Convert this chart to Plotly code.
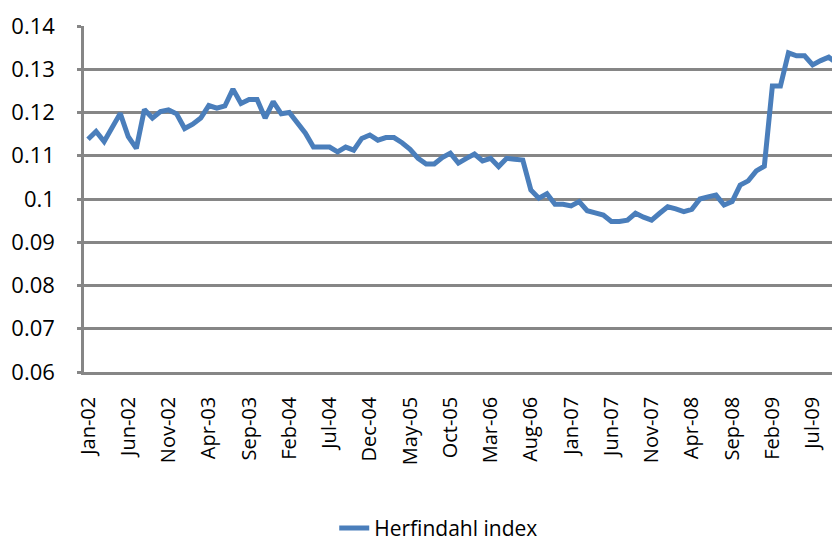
import pandas as pd
import plotly.graph_objects as go

# monthly labels Jan-02 onwards
months = list(pd.date_range('2002-01-01', periods=95, freq='MS').strftime('%b-%y'))

herfindahl = [
    0.1138, 0.1156, 0.1133, 0.1165, 0.1198, 0.1144, 0.1117, 0.1207, 0.1187, 0.1202,
    0.1206, 0.1197, 0.1163, 0.1173, 0.1187, 0.1216, 0.1210, 0.1215, 0.1254, 0.1221,
    0.1230, 0.1230, 0.1187, 0.1225, 0.1197, 0.1200, 0.1175, 0.1152, 0.1120, 0.1120,
    0.1120, 0.1109, 0.1120, 0.1113, 0.1140, 0.1148, 0.1136, 0.1142, 0.1142, 0.1130,
    0.1115, 0.1094, 0.1081, 0.1081, 0.1096, 0.1106, 0.1083, 0.1094, 0.1104, 0.1088,
    0.1094, 0.1075, 0.1094, 0.1092, 0.1090, 0.1021, 0.1002, 0.1012, 0.0988, 0.0988,
    0.0984, 0.0994, 0.0973, 0.0968, 0.0963, 0.0948, 0.0948, 0.0951, 0.0967, 0.0958,
    0.0951, 0.0967, 0.0982, 0.0977, 0.0971, 0.0976, 0.1000, 0.1005, 0.1009, 0.0986,
    0.0994, 0.1032, 0.1042, 0.1065, 0.1076, 0.1261, 0.1261, 0.1338, 0.1331, 0.1331,
    0.1310, 0.1320, 0.1328, 0.1314, 0.1345,
]

tick_labels = months[::5]

grid = '#868686'
font = 'Open Sans'

fig = go.Figure()
fig.add_trace(go.Scatter(x=months, y=herfindahl, mode='lines', name='Herfindahl index',
                         line=dict(color='#4A7EBB', width=5)))

# page body has an 8px margin, so the figure is shrunk to fit and margins shifted
fig.update_layout(
    width=832, height=534,
    margin=dict(l=76, r=0, t=18, b=170, autoexpand=False),
    plot_bgcolor='white', paper_bgcolor='white',
    font=dict(family=font, size=20, color='black'),
    showlegend=True,
    legend=dict(orientation='h', x=0.331, xanchor='left', y=-0.452, yanchor='middle',
                font=dict(size=21)),
)
fig.update_xaxes(type='category', range=[-0.5, 93.4], tickvals=tick_labels, ticktext=tick_labels,
                 tickangle=-90, showgrid=False, showline=True, linecolor=grid, linewidth=2.5,
                 ticks='', ticklabelstandoff=14, tickfont=dict(size=20), automargin=False)
fig.update_yaxes(range=[0.06, 0.14], dtick=0.01, showgrid=True, gridcolor=grid, gridwidth=2.5,
                 showline=True, linecolor=grid, linewidth=2.5, zeroline=False,
                 ticks='outside', ticklen=4, tickcolor=grid, tickwidth=2.5, ticklabelstandoff=18,
                 tickfont=dict(size=22), automargin=False)

fig.write_html("out.html")
